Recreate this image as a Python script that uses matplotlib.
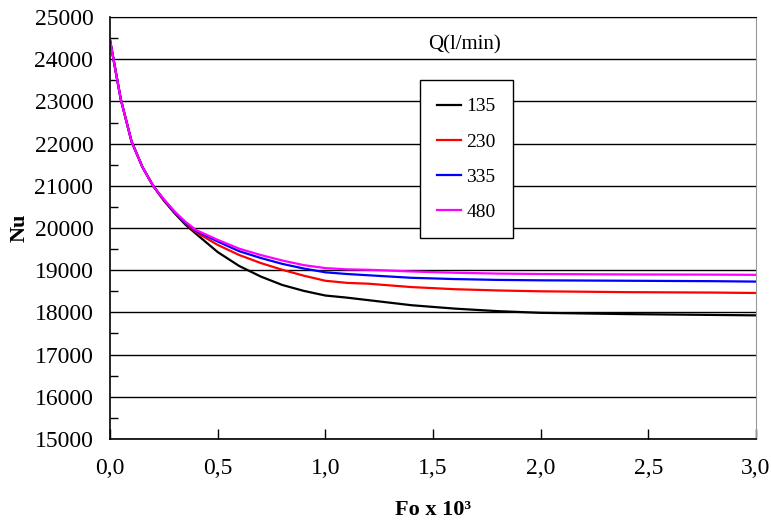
import matplotlib
matplotlib.use("Agg")
import matplotlib.pyplot as plt
from matplotlib.ticker import MultipleLocator, FuncFormatter

# --- data ---
fo = [0.0, 0.05, 0.1, 0.15, 0.2, 0.25, 0.3, 0.35, 0.4, 0.5, 0.6, 0.7, 0.8, 0.9,
      1.0, 1.1, 1.2, 1.4, 1.6, 1.8, 2.0, 2.4, 2.8, 3.0]

nu_135 = [24450, 23050, 22050, 21450, 21000, 20650, 20350, 20080, 19860, 19430,
          19100, 18850, 18650, 18510, 18400, 18350, 18290, 18170, 18090, 18030,
          17990, 17960, 17940, 17930]
nu_230 = [24450, 23050, 22050, 21450, 21000, 20660, 20370, 20110, 19900, 19600,
          19360, 19170, 19010, 18870, 18750, 18700, 18680, 18600, 18550, 18520,
          18500, 18480, 18470, 18460]
nu_335 = [24450, 23050, 22050, 21450, 21000, 20670, 20380, 20130, 19930, 19680,
          19450, 19290, 19150, 19040, 18950, 18910, 18880, 18820, 18790, 18770,
          18760, 18750, 18740, 18730]
nu_480 = [24450, 23050, 22050, 21450, 21000, 20680, 20390, 20150, 19950, 19720,
          19510, 19360, 19230, 19120, 19050, 19020, 19010, 18970, 18940, 18920,
          18910, 18900, 18895, 18890]

series = [("135", nu_135, "black"), ("230", nu_230, "red"),
          ("335", nu_335, "blue"), ("480", nu_480, "magenta")]

plt.rcParams['font.family'] = ['Liberation Serif', 'DejaVu Serif']

fig = plt.figure(figsize=(7.71, 5.27), dpi=100)
ax = fig.add_axes([0.1427, 0.167, 0.8378, 0.8007])

for label, vals, col in series:
    ax.plot(fo, vals, color=col, lw=1.6, label=label)

ax.set_xlim(0, 3.0)
ax.set_ylim(15000, 25000)

ax.xaxis.set_major_locator(MultipleLocator(0.5))
ax.yaxis.set_major_locator(MultipleLocator(1000))
ax.yaxis.set_minor_locator(MultipleLocator(500))
ax.xaxis.set_major_formatter(FuncFormatter(lambda v, p: f"{v:.1f}".replace(".", ",")))

ax.grid(axis='y', which='major', color='black', lw=1.0)
ax.set_axisbelow(True)

ax.tick_params(axis='both', which='both', direction='in', labelsize=17)
ax.tick_params(axis='y', which='major', length=0, pad=12)
ax.tick_params(axis='y', which='minor', length=6, width=1)
ax.tick_params(axis='x', which='major', length=7, width=1, pad=14)

ax.spines['right'].set_color('#999999')
ax.spines['top'].set_color('black')
for s in ['left', 'bottom']:
    ax.spines[s].set_linewidth(1.2)

ax.set_ylabel("Nu", fontsize=16, fontweight='bold')
ax.yaxis.set_label_coords(-0.125, 0.5)
ax.set_xlabel("Fo x 10³", fontsize=16, fontweight='bold', labelpad=15)

ax.text(0.549, 0.935, "Q(l/min)", transform=ax.transAxes, ha='center', va='center', fontsize=15)

leg = ax.legend(loc='upper left', bbox_to_anchor=(0.4795, 0.85), fontsize=14,
                frameon=True, fancybox=False, edgecolor='black', framealpha=1,
                handlelength=1.2, handletextpad=0.3, labelspacing=0.9,
                borderpad=0.9, borderaxespad=0)
leg.get_frame().set_linewidth(1.0)

fig.savefig("out.png", dpi=100)
